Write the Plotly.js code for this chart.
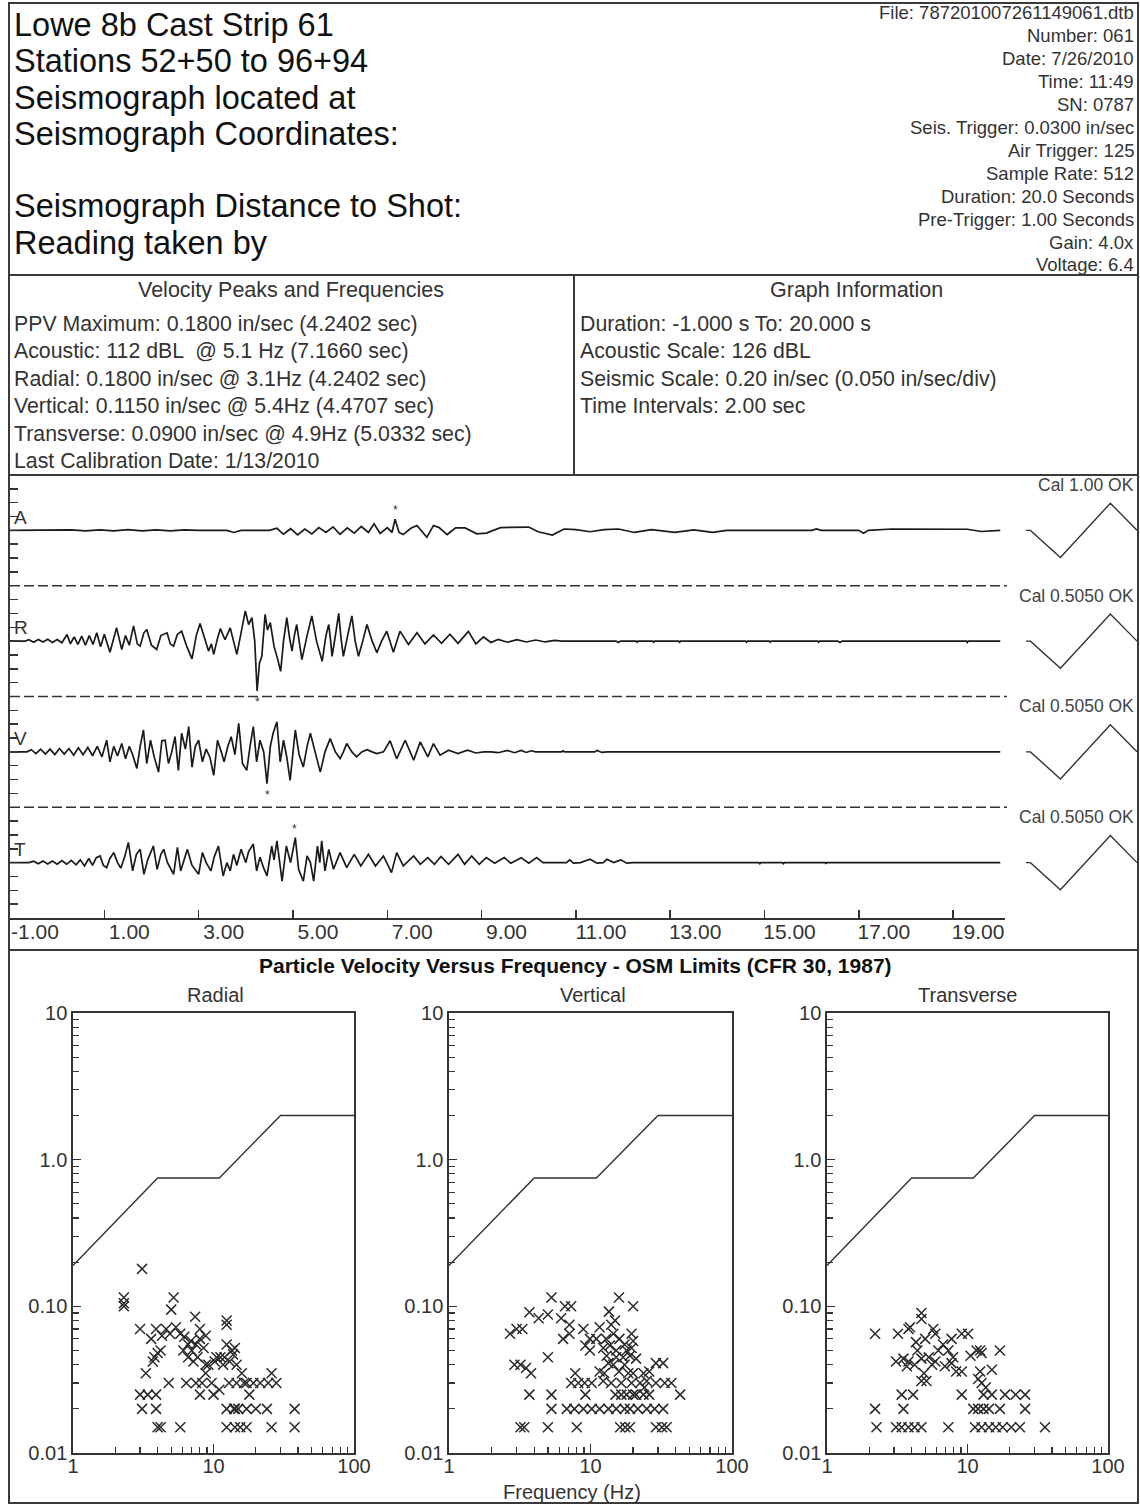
<!DOCTYPE html>
<html><head><meta charset="utf-8">
<script src="https://cdn.plot.ly/plotly-3.0.1.min.js"></script>
<style>html,body{margin:0;padding:0;background:#fff}#chart{width:1140px;height:1505px}</style>
</head><body><div id="chart"></div>
<script>
// ---------------- text content ----------------
const headerLeft = ["Lowe 8b Cast Strip 61","Stations 52+50 to 96+94","Seismograph located at","Seismograph Coordinates:","","Seismograph Distance to Shot:","Reading taken by"];
const headerRight = ["File: 787201007261149061.dtb","Number: 061","Date: 7/26/2010","Time: 11:49","SN: 0787","Seis. Trigger: 0.0300 in/sec","Air Trigger: 125","Sample Rate: 512","Duration: 20.0 Seconds","Pre-Trigger: 1.00 Seconds","Gain: 4.0x","Voltage: 6.4"];
const peakLines = ["PPV Maximum: 0.1800 in/sec (4.2402 sec)","Acoustic: 112 dBL \u00a0@ 5.1 Hz (7.1660 sec)","Radial: 0.1800 in/sec @ 3.1Hz (4.2402 sec)","Vertical: 0.1150 in/sec @ 5.4Hz (4.4707 sec)","Transverse: 0.0900 in/sec @ 4.9Hz (5.0332 sec)","Last Calibration Date: 1/13/2010"];
const graphInfoLines = ["Duration: -1.000 s To: 20.000 s","Acoustic Scale: 126 dBL","Seismic Scale: 0.20 in/sec (0.050 in/sec/div)","Time Intervals: 2.00 sec"];
const channelLetters = ["A","R","V","T"];
const calLabels = ["Cal 1.00 OK","Cal 0.5050 OK","Cal 0.5050 OK","Cal 0.5050 OK"];
const scatterTitles = ["Radial","Vertical","Transverse"];

// ---------------- waveform data: [time s, value] ----------------
// acoustic in Pa (126 dBL full scale ~ 39.9 Pa), seismic in in/sec
const acousticFull = 39.9;
const seismicFull = 0.2;
const acousticTrace = [[-1,0],[0,0],[0.3,0.4],[0.6,-0.3],[0.9,0.4],[1.2,-0.4],[1.5,0.5],[1.8,-0.3],[2.1,0.4],[2.4,-0.3],[2.7,0.3],[3.0,0],[3.6,0],[3.75,-1.5],[3.9,0],[4.5,0],[4.66,1.5],[4.8,-2.8],[4.95,1.2],[5.1,-3.2],[5.25,1.0],[5.4,-2.5],[5.55,2.0],[5.7,-1.5],[5.85,2.5],[6.0,-2.8],[6.15,1.8],[6.3,-2.0],[6.45,2.8],[6.6,-1.5],[6.72,4.8],[6.85,-2.2],[7.0,2.0],[7.1,-1.5],[7.166,8.0],[7.25,-1.5],[7.34,-3.0],[7.5,1.5],[7.63,3.5],[7.84,-5.0],[7.98,3.5],[8.1,2.0],[8.27,-3.0],[8.45,1.8],[8.65,1.8],[8.9,-2.5],[9.1,-2.0],[9.4,2.0],[9.7,2.2],[10.0,2.4],[10.2,-1.0],[10.5,-3.4],[10.75,1.0],[11.0,0.5],[11.3,-1.0],[11.6,0.5],[11.9,1.0],[12.24,-1.5],[12.6,0.5],[13.1,-1.5],[13.5,0.3],[13.9,-1.5],[14.2,0],[16.0,0],[16.1,1.0],[16.2,0],[17.0,0],[17.1,-2.0],[17.2,0],[17.7,1.0],[19.3,0.8],[19.6,-0.8],[20,0]];
const radialTrace = [[-1,0],[-0.68,0],[-0.6,0.005],[-0.5,-0.004],[-0.4,0.006],[-0.3,-0.003],[-0.2,0.007],[-0.1,-0.005],[0,0.006],[0.1,-0.006],[0.21,0.024],[0.28,-0.01],[0.36,0.015],[0.44,-0.012],[0.52,0.018],[0.6,-0.015],[0.68,0.02],[0.76,-0.012],[0.84,0.03],[0.92,-0.02],[1.0,0.025],[1.12,-0.04],[1.26,0.048],[1.37,-0.03],[1.45,0.02],[1.53,-0.015],[1.62,0.055],[1.7,-0.01],[1.76,-0.018],[1.84,0.03],[1.9,0.042],[2.0,-0.015],[2.11,-0.03],[2.2,0.02],[2.33,0.03],[2.4,-0.01],[2.47,-0.018],[2.55,0.025],[2.64,0.036],[2.75,-0.02],[2.86,-0.064],[2.95,0.02],[3.03,0.064],[3.12,0.01],[3.21,-0.036],[3.27,-0.01],[3.32,-0.048],[3.4,0.01],[3.46,0.045],[3.56,0.005],[3.67,0.048],[3.74,0.0],[3.81,-0.048],[3.9,0.03],[3.99,0.109],[4.06,0.06],[4.13,0.085],[4.19,0.0],[4.24,-0.18],[4.29,-0.08],[4.34,-0.055],[4.41,0.097],[4.46,0.04],[4.52,0.067],[4.6,-0.02],[4.66,-0.055],[4.74,-0.109],[4.8,0.0],[4.87,0.085],[4.93,0.01],[4.98,-0.036],[5.03,0.02],[5.08,0.06],[5.14,-0.01],[5.19,-0.067],[5.3,0.02],[5.4,0.091],[5.5,0.0],[5.62,-0.073],[5.7,0.02],[5.76,0.06],[5.8,0.0],[5.83,-0.055],[5.9,0.02],[5.97,0.1],[6.02,0.01],[6.07,-0.055],[6.16,0.02],[6.25,0.091],[6.32,0.0],[6.39,-0.055],[6.48,0.0],[6.57,0.06],[6.68,0.0],[6.78,-0.042],[6.88,0.0],[6.99,0.036],[7.13,-0.04],[7.27,0.036],[7.45,-0.012],[7.63,0.03],[7.8,-0.01],[7.98,0.022],[8.15,-0.008],[8.33,0.025],[8.5,-0.008],[8.72,0.035],[8.88,-0.01],[9.04,0.015],[9.2,-0.005],[9.35,0.006],[9.55,-0.004],[9.75,0.005],[9.95,-0.003],[10.15,0.004],[10.35,-0.003],[10.55,0.003],[10.7,0],[11.85,0],[11.9,-0.005],[11.95,0],[12.28,0],[12.3,-0.004],[12.32,0],[12.63,0],[12.65,-0.004],[12.67,0],[13.18,0],[13.2,-0.004],[13.22,0],[14.6,0],[14.62,-0.004],[14.64,0],[15.1,0],[15.12,-0.004],[15.14,0],[16.13,0],[16.15,-0.004],[16.17,0],[16.55,0],[16.6,-0.005],[16.65,0],[19.28,0],[19.3,-0.005],[19.32,0],[20,0]];
const verticalTrace = [[-1,0],[-0.64,0],[-0.55,0.008],[-0.45,-0.006],[-0.35,0.01],[-0.25,-0.008],[-0.15,0.01],[-0.05,-0.01],[0.05,0.012],[0.15,-0.008],[0.25,0.012],[0.35,-0.012],[0.45,0.015],[0.55,-0.01],[0.65,0.016],[0.75,-0.014],[0.85,0.02],[0.95,-0.018],[1.05,0.042],[1.12,-0.036],[1.2,0.02],[1.28,-0.015],[1.37,0.03],[1.45,-0.025],[1.53,0.02],[1.6,-0.01],[1.69,-0.06],[1.76,0.02],[1.83,0.079],[1.9,-0.042],[1.98,0.042],[2.06,-0.02],[2.15,-0.073],[2.22,0.04],[2.29,0.042],[2.36,-0.042],[2.43,0.0],[2.5,0.055],[2.57,-0.067],[2.64,0.067],[2.72,0.01],[2.79,0.091],[2.86,-0.055],[2.93,0.02],[3.0,0.042],[3.08,-0.036],[3.16,0.01],[3.24,-0.02],[3.32,-0.085],[3.4,0.042],[3.48,0.0],[3.54,-0.036],[3.62,0.02],[3.69,0.055],[3.77,-0.01],[3.85,0.103],[3.93,-0.042],[4.02,-0.067],[4.09,0.02],[4.16,0.091],[4.23,-0.036],[4.3,0.042],[4.38,0.0],[4.45,-0.115],[4.52,0.02],[4.58,0.067],[4.66,0.109],[4.73,-0.036],[4.8,0.042],[4.87,-0.02],[4.94,-0.103],[5.0,0.0],[5.05,0.079],[5.13,-0.01],[5.22,-0.055],[5.3,0.02],[5.37,0.067],[5.47,0.0],[5.58,-0.073],[5.68,0.0],[5.79,0.048],[5.9,0.0],[6.0,-0.024],[6.07,0.0],[6.14,0.03],[6.25,0.0],[6.35,-0.018],[6.46,0.0],[6.57,0.008],[6.68,0.0],[6.78,-0.006],[6.92,0.0],[7.06,0.04],[7.2,-0.025],[7.38,0.042],[7.56,-0.03],[7.7,0.036],[7.86,-0.018],[7.98,0.03],[8.12,-0.012],[8.3,0.006],[8.5,-0.006],[8.7,0.006],[8.88,-0.004],[9.05,0],[9.2,0],[9.35,-0.003],[9.55,0.005],[9.7,-0.003],[9.84,0.005],[9.95,-0.002],[10.05,0.004],[10.15,0],[10.7,0],[10.73,0.004],[10.76,0],[11.4,0],[11.45,0.005],[11.55,-0.002],[11.66,0],[20,0]];
const transverseTrace = [[-1,0],[-0.6,0],[-0.5,0.005],[-0.4,-0.004],[-0.3,0.006],[-0.2,-0.005],[-0.1,0.006],[0,-0.006],[0.1,0.007],[0.2,-0.006],[0.3,0.008],[0.4,-0.008],[0.49,0.01],[0.58,-0.012],[0.67,0.015],[0.75,-0.01],[0.83,0.018],[0.91,0.024],[0.98,-0.01],[1.05,-0.018],[1.12,0.015],[1.2,0.036],[1.28,0.0],[1.35,-0.02],[1.43,0.02],[1.51,0.073],[1.6,-0.03],[1.68,0.03],[1.76,0.048],[1.84,-0.042],[1.92,0.01],[2.04,0.06],[2.12,-0.024],[2.2,0.03],[2.26,0.048],[2.34,0.0],[2.47,-0.042],[2.55,0.055],[2.62,-0.03],[2.7,0.02],[2.76,0.048],[2.86,-0.01],[3.0,-0.042],[3.08,0.036],[3.16,0.0],[3.26,-0.03],[3.33,0.02],[3.42,0.06],[3.52,-0.048],[3.6,0.0],[3.67,-0.03],[3.74,0.03],[3.81,-0.01],[3.9,0.048],[4.0,0.0],[4.06,0.04],[4.16,0.067],[4.23,-0.03],[4.3,0.02],[4.38,-0.02],[4.45,-0.048],[4.55,0.06],[4.6,0.01],[4.66,0.079],[4.77,-0.067],[4.86,0.06],[4.95,0.0],[5.05,0.09],[5.12,-0.024],[5.22,-0.067],[5.3,0.024],[5.37,0.0],[5.44,-0.067],[5.52,0.06],[5.57,0.0],[5.61,0.079],[5.68,-0.03],[5.76,0.048],[5.86,-0.024],[6.0,0.036],[6.14,-0.018],[6.3,0.03],[6.44,-0.012],[6.6,0.03],[6.75,-0.012],[6.92,0.024],[7.09,-0.036],[7.2,0.036],[7.34,-0.012],[7.56,0.024],[7.7,-0.006],[7.86,0.018],[8.0,-0.006],[8.14,0.022],[8.3,-0.006],[8.5,0.03],[8.64,-0.006],[8.79,0.024],[8.95,-0.006],[9.1,0.018],[9.28,-0.002],[9.48,0.018],[9.62,-0.002],[9.84,0.018],[10.0,-0.002],[10.17,0.018],[10.3,0],[10.8,0],[10.87,0.01],[10.95,-0.002],[11.1,0],[11.3,0.012],[11.45,-0.002],[11.58,0],[11.66,0.012],[11.8,0],[11.95,0.01],[12.08,-0.002],[12.2,0],[14.88,0],[14.9,-0.004],[14.92,0],[15.38,0],[15.4,-0.004],[15.42,0],[16.28,0],[16.3,-0.003],[16.32,0],[20,0]];
// peak markers (time, value) per channel A, R, V, T
const peakTimes = [7.166, 4.2402, 4.4707, 5.0332];
const peakValues = [8.0, -0.18, -0.115, 0.09];
// calibration pulse shape (relative time, relative amplitude) and amplitude per channel
const calX = [0, 0.04, 0.31, 0.76, 1.0];
const calY = [0, 0, -1, 1, 0];
const calAmp = [19.6, 0.098, 0.098, 0.098];
const waveTickVals = [-1,1,3,5,7,9,11,13,15,17,19];

// ---------------- particle velocity vs frequency ----------------
const osmFreq = [1, 4, 11, 30, 100];
const osmVel = [0.19, 0.75, 0.75, 2.0, 2.0];
const radialPts = [[3.1,0.18],[2.3,0.115],[2.3,0.105],[2.3,0.1],[5.2,0.115],[5.0,0.095],[7.4,0.085],[12.4,0.08],[12.4,0.075],[3.0,0.07],[3.9,0.07],[4.6,0.07],[5.4,0.072],[8.0,0.07],[3.6,0.06],[4.3,0.063],[4.9,0.065],[6.2,0.062],[8.0,0.06],[8.8,0.063],[6.6,0.055],[7.5,0.055],[12.4,0.055],[4.2,0.05],[4.0,0.048],[6.1,0.05],[13.5,0.05],[14.2,0.052],[3.8,0.045],[6.6,0.045],[7.7,0.045],[10.5,0.045],[12.0,0.045],[13.8,0.047],[3.7,0.042],[7.2,0.042],[8.8,0.04],[10.2,0.042],[11.7,0.04],[14.6,0.04],[3.3,0.035],[8.8,0.035],[15.9,0.035],[25.9,0.035],[4.8,0.03],[6.4,0.03],[7.5,0.03],[8.3,0.03],[9.7,0.03],[12.9,0.03],[14.6,0.03],[17.2,0.03],[19.2,0.03],[24.5,0.03],[28,0.03],[3.0,0.025],[3.4,0.025],[3.9,0.025],[8.0,0.025],[10,0.025],[11,0.027],[18,0.025],[3.1,0.02],[3.9,0.02],[12.4,0.02],[14.2,0.02],[15,0.02],[17.2,0.02],[20,0.02],[24,0.02],[37.8,0.02],[4.0,0.015],[4.2,0.015],[5.8,0.015],[12.4,0.015],[14.2,0.015],[15.5,0.015],[17.2,0.015],[25.9,0.015],[37.8,0.015],[5.8,0.065],[7.0,0.05],[6.9,0.058],[9.2,0.04],[11.2,0.045],[13,0.042],[8.5,0.052],[16.5,0.03],[21.5,0.03],[14,0.02]];
const verticalPts = [[5.3,0.115],[6.6,0.1],[7.3,0.1],[15.9,0.115],[20,0.1],[3.7,0.091],[4.3,0.083],[5.0,0.088],[6.2,0.083],[7.1,0.075],[13.5,0.092],[2.7,0.065],[3.0,0.07],[3.3,0.07],[7.1,0.065],[8.9,0.07],[11.6,0.072],[6.4,0.06],[9.9,0.06],[11,0.06],[12.9,0.06],[14,0.075],[14.9,0.08],[19.5,0.065],[20,0.058],[9.2,0.054],[12.3,0.052],[13.7,0.054],[15.2,0.05],[17.4,0.055],[18,0.05],[19.5,0.052],[9.9,0.05],[13,0.046],[15.2,0.045],[19,0.046],[21,0.044],[5.0,0.045],[2.9,0.04],[3.2,0.04],[3.5,0.038],[3.8,0.035],[13.4,0.041],[17.4,0.04],[29,0.041],[32.6,0.041],[7.8,0.035],[11.6,0.036],[15.9,0.036],[20,0.035],[23.7,0.035],[26,0.036],[7.3,0.03],[8.2,0.03],[9.1,0.03],[10.2,0.03],[12.3,0.031],[14,0.03],[16.5,0.03],[19.5,0.03],[22.4,0.03],[25,0.031],[29,0.03],[33.5,0.03],[37.3,0.03],[3.7,0.025],[5.3,0.025],[9.2,0.025],[15,0.025],[16.5,0.025],[18,0.025],[20,0.025],[23.7,0.025],[43,0.025],[5.3,0.02],[6.8,0.02],[7.7,0.02],[8.9,0.02],[10.2,0.02],[11.6,0.02],[13.4,0.02],[15.2,0.02],[17.4,0.02],[19,0.02],[21.6,0.02],[25,0.02],[28.4,0.02],[32.6,0.02],[3.2,0.015],[3.4,0.015],[5.0,0.015],[8.0,0.015],[16.2,0.015],[17.6,0.015],[19,0.015],[29,0.015],[32,0.015],[34.5,0.015],[14.5,0.065],[16,0.06],[17,0.045],[14.5,0.04],[18.5,0.035],[12.5,0.035],[24,0.028],[21,0.025],[26,0.025]];
const transversePts = [[4.7,0.09],[4.7,0.082],[3.9,0.072],[2.2,0.065],[3.2,0.065],[3.8,0.07],[5.7,0.07],[5.9,0.065],[9.1,0.065],[10.1,0.065],[4.3,0.057],[5.0,0.06],[7.7,0.06],[6.7,0.055],[7.3,0.05],[11.6,0.05],[12.3,0.05],[17,0.05],[3.5,0.044],[3.1,0.042],[3.8,0.042],[4.7,0.044],[5.9,0.042],[7.9,0.045],[10.5,0.046],[12.6,0.048],[3.7,0.039],[4.2,0.04],[5.6,0.04],[6.9,0.039],[7.7,0.041],[9.1,0.036],[12.3,0.036],[14.9,0.037],[4.7,0.031],[5.1,0.031],[11.9,0.032],[12.6,0.03],[3.4,0.025],[4.1,0.025],[9.1,0.025],[13,0.025],[14.9,0.025],[18.5,0.025],[22,0.025],[25.7,0.025],[2.2,0.02],[3.5,0.02],[11,0.02],[11.9,0.02],[13,0.02],[14.2,0.02],[17,0.02],[25.7,0.02],[2.25,0.015],[3.1,0.015],[3.4,0.015],[3.8,0.015],[4.2,0.015],[4.7,0.015],[7.3,0.015],[11.3,0.015],[12.6,0.015],[14.2,0.015],[15.9,0.015],[17.8,0.015],[20.5,0.015],[23.6,0.015],[35.6,0.015],[4.4,0.05],[5.3,0.045],[6.2,0.05],[8.3,0.036],[4.9,0.035],[13.5,0.028]];
const freqTickVals = [1,10,100];
const freqTickText = ["1","10","100"];
const freqMinor = [2,3,4,5,6,7,8,9,20,30,40,50,60,70,80,90];
const velTickVals = [0.01,0.1,1,10];
const velTickText = ["0.01","0.10","1.0","10"];
const velMinor = [0.02,0.03,0.04,0.05,0.06,0.07,0.08,0.09,0.2,0.3,0.4,0.5,0.6,0.7,0.8,0.9,2,3,4,5,6,7,8,9];

// ---------------- layout helpers ----------------
const W = 1140, H = 1505;
const fx = p => p / W;
const fy = p => 1 - p / H;
const INK = '#2a2a2a';
const FONT = '"Liberation Sans", Arial, Helvetica, sans-serif';

const data = [];
const yNames = ['y','y2','y3','y4'];
const wave = [acousticTrace, radialTrace, verticalTrace, transverseTrace];
wave.forEach((pts, i) => {
  data.push({x: pts.map(p => p[0]), y: pts.map(p => p[1]), xaxis: 'x', yaxis: yNames[i],
    mode: 'lines', line: {color: '#1a1a1a', width: 1.7}, hoverinfo: 'skip', showlegend: false});
  data.push({x: calX, y: calY.map(v => v * calAmp[i]), xaxis: 'x2', yaxis: yNames[i],
    mode: 'lines', line: {color: '#333', width: 1.4}, hoverinfo: 'skip', showlegend: false});
});

const sets = [radialPts, verticalPts, transversePts];
const sx = ['x3','x4','x5'], sy = ['y5','y6','y7'];
sets.forEach((pts, i) => {
  data.push({x: osmFreq, y: osmVel, xaxis: sx[i], yaxis: sy[i], mode: 'lines',
    line: {color: '#333', width: 1.4}, hoverinfo: 'skip', showlegend: false});
  data.push({x: pts.map(p => p[0]), y: pts.map(p => p[1]), xaxis: sx[i], yaxis: sy[i], mode: 'markers',
    marker: {symbol: 'x-thin-open', size: 10, color: '#2a2a2a', line: {color: '#2a2a2a', width: 1.5}},
    hoverinfo: 'skip', showlegend: false});
});

const layout = {
  width: W, height: H, margin: {l: 0, r: 0, t: 0, b: 0},
  paper_bgcolor: '#fff', plot_bgcolor: 'rgba(0,0,0,0)',
  font: {family: FONT, color: INK}, showlegend: false,
  annotations: [], shapes: []
};

// waveform axes
const bandEdges = [475, 585.75, 696.5, 807.25, 918];
layout.xaxis = {domain: [fx(10), fx(1005)], range: [-1, 20.1], anchor: 'y4',
  tickmode: 'array', tickvals: waveTickVals, ticktext: waveTickVals.map(v => v.toFixed(2)),
  ticks: 'inside', ticklen: 8, tickwidth: 1.5, tickcolor: '#333',
  showline: true, linecolor: '#333', linewidth: 1.6, showgrid: false, zeroline: false,
  tickfont: {size: 21, color: '#333'}, ticklabelshift: 25, ticklabelstandoff: -6};
layout.xaxis2 = {domain: [fx(1026), fx(1137)], range: [0, 1], anchor: 'y4', visible: false};
const fulls = [acousticFull, seismicFull, seismicFull, seismicFull];
yNames.forEach((n, i) => {
  const key = i === 0 ? 'yaxis' : 'yaxis' + (i + 1);
  layout[key] = {domain: [fy(bandEdges[i + 1]), fy(bandEdges[i])], range: [-fulls[i], fulls[i]], anchor: 'x',
    tickmode: 'linear', tick0: 0, dtick: fulls[i] / 4, ticks: 'inside', ticklen: 8, tickwidth: 1.5,
    tickcolor: '#333', showticklabels: false, showline: false, showgrid: false, zeroline: false};
});

// scatter axes
const sDom = [[73, 354], [449, 732], [827, 1108]];
sDom.forEach((d, i) => {
  layout['xaxis' + (i + 3)] = {domain: [fx(d[0]), fx(d[1])], type: 'log', range: [0, 2], anchor: 'y' + (i + 5),
    tickmode: 'array', tickvals: freqTickVals, ticktext: freqTickText, ticks: 'inside', ticklen: 9, tickwidth: 1.3,
    tickcolor: '#333', minor: {tickmode: 'array', tickvals: freqMinor, ticks: 'inside', ticklen: 6, tickwidth: 1.2, tickcolor: '#333'},
    showline: true, mirror: true, linecolor: '#333', linewidth: 1.7, showgrid: false, zeroline: false,
    tickfont: {size: 20, color: '#333'}, ticklabelstandoff: -6};
  layout['yaxis' + (i + 5)] = {domain: [fy(1453), fy(1013)], type: 'log', range: [-2, 1], anchor: 'x' + (i + 3),
    tickmode: 'array', tickvals: velTickVals, ticktext: velTickText, ticks: 'inside', ticklen: 8, tickwidth: 1.3,
    tickcolor: '#333', minor: {tickmode: 'array', tickvals: velMinor, ticks: 'inside', ticklen: 6, tickwidth: 1.2, tickcolor: '#333'},
    showline: true, mirror: true, linecolor: '#333', linewidth: 1.7, showgrid: false, zeroline: false,
    tickfont: {size: 20, color: '#333'}, ticklabelstandoff: 0};
});

// annotations
function ann(text, px, py, size, xanchor, color, extra) {
  layout.annotations.push(Object.assign({text: text, xref: 'paper', yref: 'paper', x: fx(px), y: fy(py),
    xanchor: xanchor, yanchor: 'middle', showarrow: false, font: {size: size, color: color, family: FONT}}, extra || {}));
}
headerLeft.forEach((t, i) => { if (t) ann(t, 12, 25 + i * 36.3, 32.5, 'left', '#111'); });
headerRight.forEach((t, i) => ann(t, 1136, 13 + i * 22.9, 18.5, 'right', '#333'));
ann('Velocity Peaks and Frequencies', 291, 290, 21.5, 'center', '#333');
ann('Graph Information', 856, 290, 21.5, 'center', '#333');
peakLines.forEach((t, i) => ann(t, 12, 324 + i * 27.4, 21.3, 'left', '#333'));
graphInfoLines.forEach((t, i) => ann(t, 578, 324 + i * 27.4, 21.3, 'left', '#333'));
channelLetters.forEach((t, i) => ann(t, 12, 517 + i * 110.75, 19, 'left', '#333'));
calLabels.forEach((t, i) => ann(t, 1136, 485 + i * 110.75, 17.5, 'right', '#444'));
ann('Particle Velocity Versus Frequency - OSM Limits (CFR 30, 1987)', 575, 965, 21, 'center', '#111',
  {font: {size: 21, color: '#111', family: FONT, weight: 'bold'}});
const titleX = [215, 593, 967];
scatterTitles.forEach((t, i) => ann(t, titleX[i], 995, 20, 'center', '#333'));
ann('Frequency (Hz)', 572, 1492, 20, 'center', '#333');

// peak asterisks
peakTimes.forEach((t, i) => {
  layout.annotations.push({text: '*', x: t, y: peakValues[i], xref: 'x', yref: yNames[i], showarrow: false,
    yshift: peakValues[i] > 0 ? 9 : -11, font: {size: 12, color: '#333', family: FONT}});
});

// frame lines
const L = {color: '#3a3a3a', width: 2};
function hline(py, x0, x1, extra) {
  layout.shapes.push(Object.assign({type: 'line', xref: 'paper', yref: 'paper', x0: fx(x0), x1: fx(x1), y0: fy(py), y1: fy(py), line: L}, extra || {}));
}
layout.shapes.push({type: 'rect', xref: 'paper', yref: 'paper', x0: fx(9), x1: fx(1138), y0: fy(1503), y1: fy(3), line: L});
hline(275, 9, 1138);
hline(475, 9, 1138);
hline(950, 9, 1138);
layout.shapes.push({type: 'line', xref: 'paper', yref: 'paper', x0: fx(574), x1: fx(574), y0: fy(475), y1: fy(275), line: L});
[1, 2, 3].forEach(k => hline(bandEdges[k], 10, 1007, {line: {color: '#333', width: 1.6, dash: '10px,4px'}}));

Plotly.newPlot('chart', data, layout, {staticPlot: true, displayModeBar: false});
</script></body></html>
